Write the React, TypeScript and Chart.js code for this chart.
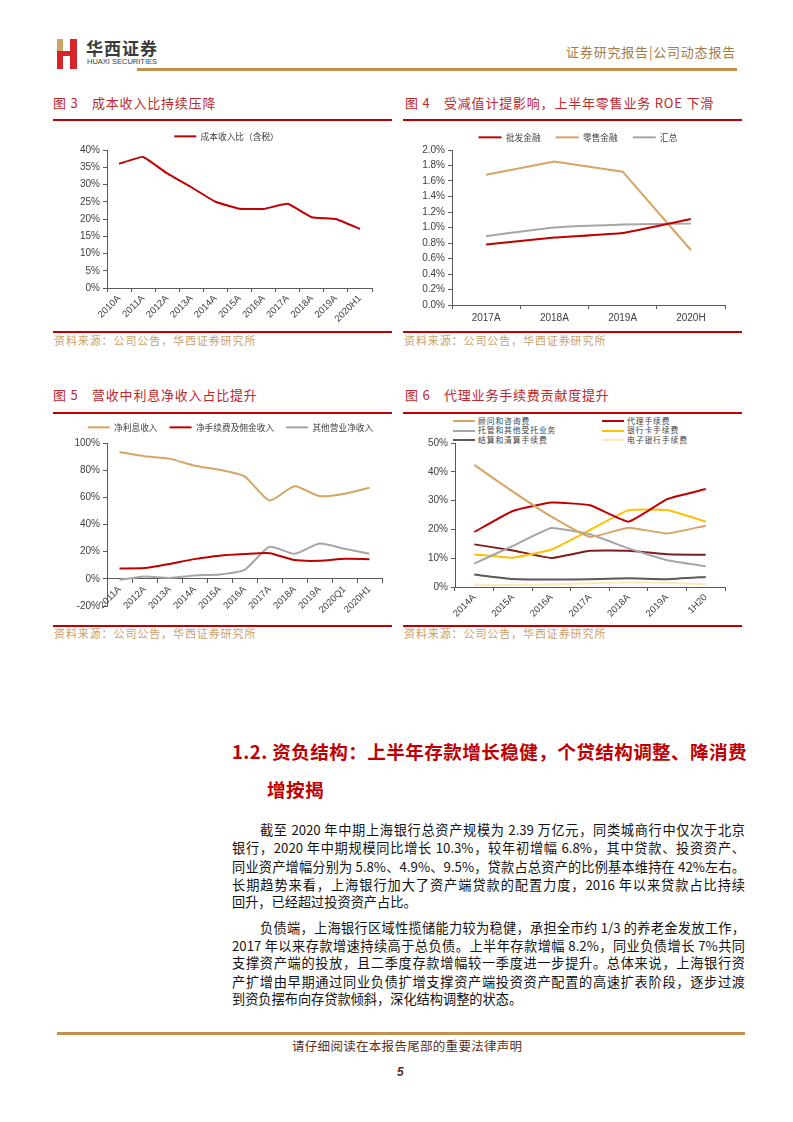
import React, { useEffect, useRef } from "react";
import { Chart, registerables } from "chart.js";

Chart.register(...registerables);

// 图3 成本收入比
const costYears = ["2010A", "2011A", "2012A", "2013A", "2014A", "2015A", "2016A", "2017A", "2018A", "2019A", "2020H1"];
const costIncomeRatio = [36, 38, 33.2, 29.2, 25, 23, 22.9, 24.4, 20.5, 20, 17.1];

// 图4 ROE
const roeYears = ["2017A", "2018A", "2019A", "2020H"];
const roeLabels = ["批发金融", "零售金融", "汇总"];
const roeWholesale = [0.78, 0.87, 0.93, 1.11];
const roeRetail = [1.68, 1.85, 1.72, 0.71];
const roeTotal = [0.89, 1.0, 1.04, 1.05];

// 图5 营收结构
const revYears = ["2011A", "2012A", "2013A", "2014A", "2015A", "2016A", "2017A", "2018A", "2019A", "2020Q1", "2020H1"];
const revLabels = ["净利息收入", "净手续费及佣金收入", "其他营业净收入"];
const revNetInterest = [93.4, 90.2, 88.5, 83.3, 80.3, 75.4, 57.7, 68.1, 60.9, 62.7, 67.1];
const revFeeCommission = [7.6, 7.9, 11, 14.5, 17, 18.2, 18.9, 13.8, 13.3, 14.7, 14.5];
const revOther = [-0.7, 1.7, 0.7, 2.5, 3.2, 6.6, 23.6, 18.4, 26, 22.1, 18.4];

// 图6 手续费结构
const feeYears = ["2014A", "2015A", "2016A", "2017A", "2018A", "2019A", "1H20"];
const feeLabels = ["顾问和咨询费", "代理手续费", "托管和其他受托业务", "银行卡手续费", "结算和清算手续费", "电子银行手续费", "其他手续费"];
const feeAdvisory = [42.4, 33.1, 24.4, 17.4, 20.6, 18.6, 21.3];
const feeAgency = [19.1, 26.4, 29.3, 28.4, 22.7, 30.5, 34];
const feeCustody = [8.1, 14.3, 20.5, 18.3, 13.4, 9.3, 7.2];
const feeCard = [11.3, 10.2, 13, 19.8, 26.7, 26.7, 22.7];
const feeSettlement = [4.3, 2.8, 2.6, 2.7, 3.0, 2.7, 3.5];
const feeEbank = [0.6, 0.7, 0.9, 1.3, 1.6, 1.5, 0.9];
const feeOther = [14.8, 12.7, 10.1, 12.6, 12.6, 11.4, 11.2];

const CJK = '"Noto Sans CJK SC", sans-serif';
const LATIN = '"Liberation Sans", Arial, sans-serif';
const AXIS = "#595959";
const TICK = "#404040";
const RED = "#C00000";
const TAN = "#D6A464";
const GRAY = "#A6A6A6";
const feeColors = [TAN, RED, GRAY, "#FFC000", "#595959", "#FDE9B8", "#7F1D1D"];

// fixes the legend block height and nudges it sideways
const fixLegend = (h: number, dx: number) => ({
  id: "fixLegend",
  beforeInit(chart: any) {
    const fit = chart.legend.fit;
    chart.legend.fit = function () {
      fit.call(this);
      this.height = h;
    };
  },
  afterLayout(chart: any) {
    chart.legend.left += dx;
    chart.legend.right += dx;
  },
});

const line = (label: string, data: number[], color: string, tension = 0.15) => ({
  label,
  data,
  borderColor: color,
  backgroundColor: color,
  borderWidth: 2,
  pointRadius: 0,
  tension,
  fill: false,
});

const legendOpts = (pad: number, boxW: number) => ({
  display: true,
  position: "top",
  labels: {
    usePointStyle: true,
    pointStyle: "line",
    pointStyleWidth: boxW,
    padding: pad,
    color: TICK,
    font: { family: CJK, size: 8.7 },
  },
});

const xScale = (rotate: boolean, height?: number) => ({
  offset: true,
  grid: { display: true, drawOnChartArea: false, drawTicks: true, tickLength: 4, color: AXIS, offset: true },
  border: { display: true, color: AXIS, width: 1 },
  ticks: {
    autoSkip: false,
    minRotation: rotate ? 45 : 0,
    maxRotation: rotate ? 45 : 0,
    padding: rotate ? 1 : 3,
    color: TICK,
    font: { family: LATIN, size: rotate ? 9.5 : 10 },
  },
  afterFit: height ? (s: any) => { s.height = height; } : undefined,
});

const yScale = (min: number, max: number, step: number, width: number, fmt: (v: number) => string) => ({
  min,
  max,
  grid: { display: true, drawOnChartArea: false, drawTicks: true, tickLength: 4, color: AXIS },
  border: { display: true, color: AXIS, width: 1 },
  ticks: { stepSize: step, padding: 3, color: TICK, font: { family: LATIN, size: 10 }, callback: (v: any) => fmt(Number(v)) },
  afterFit: (s: any) => { s.width = width; },
});

function LineChart({ left, top, width, height, build }: { left: number; top: number; width: number; height: number; build: () => any }) {
  const ref = useRef<HTMLCanvasElement>(null);
  useEffect(() => {
    const chart = new Chart(ref.current!, build());
    return () => chart.destroy();
  }, []);
  return (
    <div style={{ position: "absolute", left, top, width, height }}>
      <canvas ref={ref} />
    </div>
  );
}

const baseOptions = {
  responsive: true,
  maintainAspectRatio: false,
  animation: false,
};

const costConfig = () => ({
  type: "line",
  data: { labels: costYears, datasets: [line("成本收入比（含税）", costIncomeRatio, RED, 0.1)] },
  options: {
    ...baseOptions,
    layout: { padding: { left: 0, right: 21, top: 0, bottom: 0 } },
    plugins: { legend: legendOpts(10, 22), tooltip: { enabled: false } },
    scales: { x: xScale(true, 42), y: yScale(0, 40, 5, 54, (v) => `${v}%`) },
  },
  plugins: [fixLegend(28, 14)],
});

const roeConfig = () => ({
  type: "line",
  data: {
    labels: roeYears,
    datasets: [
      line(roeLabels[0], roeWholesale, RED, 0.1),
      line(roeLabels[1], roeRetail, TAN, 0),
      line(roeLabels[2], roeTotal, GRAY, 0.1),
    ],
  },
  options: {
    ...baseOptions,
    layout: { padding: { left: 0, right: 18, top: 0, bottom: 0 } },
    plugins: { legend: legendOpts(15, 23), tooltip: { enabled: false } },
    scales: { x: xScale(false, 23), y: yScale(0, 2, 0.2, 49, (v) => `${v.toFixed(1)}%`) },
  },
  plugins: [fixLegend(32, 14)],
});

const revConfig = () => {
  const x: any = xScale(true);
  x.position = { y: 0 };
  return {
    type: "line",
    data: {
      labels: revYears,
      datasets: [
        line(revLabels[0], revNetInterest, TAN, 0.2),
        line(revLabels[1], revFeeCommission, RED, 0.2),
        line(revLabels[2], revOther, GRAY, 0.2),
      ],
    },
    options: {
      ...baseOptions,
      layout: { padding: { left: 0, right: 11, top: 0, bottom: 18 } },
      plugins: { legend: legendOpts(12, 22), tooltip: { enabled: false } },
      scales: { x, y: yScale(-20, 100, 20, 54, (v) => `${v}%`) },
    },
    plugins: [fixLegend(32, 13)],
  };
};

const feeData = [feeAdvisory, feeAgency, feeCustody, feeCard, feeSettlement, feeEbank, feeOther];

const feeConfig = () => ({
  type: "line",
  data: {
    labels: feeYears,
    datasets: feeData.map((d, i) => line(feeLabels[i], d, feeColors[i], 0.12)),
  },
  options: {
    ...baseOptions,
    layout: { padding: { left: 0, right: 18, top: 31, bottom: 0 } },
    plugins: { legend: { display: false }, tooltip: { enabled: false } },
    scales: { x: xScale(true, 38), y: yScale(0, 50, 10, 52, (v) => `${v}%`) },
  },
});

function Text({ x, cy, size, children, style }: { x: number; cy: number; size: number; children: React.ReactNode; style?: React.CSSProperties }) {
  return (
    <div style={{ position: "absolute", left: x, top: cy - size * 0.7, height: size * 1.4, lineHeight: `${size * 1.4}px`, fontSize: size, whiteSpace: "nowrap", ...style }}>
      {children}
    </div>
  );
}

function Rule({ x, y, w, h = 2, color = RED }: { x: number; y: number; w: number; h?: number; color?: string }) {
  return <div style={{ position: "absolute", left: x, top: y, width: w, height: h, background: color }} />;
}

function FigTitle({ x, cy, no, title }: { x: number; cy: number; no: string; title: string }) {
  const st = { color: "#C0282D", letterSpacing: 0.8, fontFamily: CJK };
  return (
    <>
      <Text x={x} cy={cy} size={13} style={st}>{`图 ${no}`}</Text>
      <Text x={x + 39} cy={cy} size={13} style={st}>{title}</Text>
    </>
  );
}

function Source({ x, cy }: { x: number; cy: number }) {
  return (
    <Text x={x} cy={cy} size={11} style={{ color: "#C9A06C", letterSpacing: 0.9, fontFamily: CJK }}>
      资料来源：公司公告，华西证券研究所
    </Text>
  );
}

const para1 = [
  "截至 2020 年中期上海银行总资产规模为 2.39 万亿元，同类城商行中仅次于北京",
  "银行，2020 年中期规模同比增长 10.3%，较年初增幅 6.8%，其中贷款、投资资产、",
  "同业资产增幅分别为 5.8%、4.9%、9.5%，贷款占总资产的比例基本维持在 42%左右。",
  "长期趋势来看，上海银行加大了资产端贷款的配置力度，2016 年以来贷款占比持续",
  "回升，已经超过投资资产占比。",
];
const para2 = [
  "负债端，上海银行区域性揽储能力较为稳健，承担全市约 1/3 的养老金发放工作，",
  "2017 年以来存款增速持续高于总负债。上半年存款增幅 8.2%，同业负债增长 7%共同",
  "支撑资产端的投放，且二季度存款增幅较一季度进一步提升。总体来说，上海银行资",
  "产扩增由早期通过同业负债扩增支撑资产端投资资产配置的高速扩表阶段，逐步过渡",
  "到资负摆布向存贷款倾斜，深化结构调整的状态。",
];

function Paragraph({ lines, ys }: { lines: string[]; ys: number[] }) {
  return (
    <>
      {lines.map((t, i) => {
        const last = i === lines.length - 1;
        const indent = i === 0 ? 28 : 0;
        return (
          <div
            key={i}
            style={{
              position: "absolute",
              left: 232 + indent,
              width: 513 - indent,
              top: ys[i] - 9,
              height: 18,
              lineHeight: "18px",
              fontSize: 13.2,
              color: "#111",
              textAlign: last ? "left" : "justify",
              textAlignLast: last ? "left" : "justify",
              fontFamily: CJK,
            }}
          >
            {t}
          </div>
        );
      })}
    </>
  );
}

function FeeLegend() {
  const colX = [453, 602];
  const rowY = [421, 430.5, 440];
  return (
    <>
      {feeLabels.slice(0, 6).map((lab, i) => {
        const x = colX[i % 2];
        const y = rowY[Math.floor(i / 2)];
        return (
          <React.Fragment key={lab}>
            <div style={{ position: "absolute", left: x, top: y - 1, width: 22, height: 2, background: feeColors[i] }} />
            <Text x={x + 25} cy={y} size={7.8} style={{ color: TICK, fontFamily: CJK, letterSpacing: 0.9 }}>{lab}</Text>
          </React.Fragment>
        );
      })}
    </>
  );
}

export default function App() {
  return (
    <div style={{ position: "absolute", left: 0, top: 0, width: 793, height: 1122, background: "#fff", overflow: "hidden", fontFamily: CJK }}>
      {/* header */}
      <div style={{ position: "absolute", left: 57, top: 39, width: 6, height: 30, background: "linear-gradient(#CFA468 0 55%, #D7262B 55%)" }} />
      <div style={{ position: "absolute", left: 70, top: 39, width: 7, height: 30, background: "#D7262B" }} />
      <div style={{ position: "absolute", left: 57, top: 51, width: 20, height: 5, background: "#D7262B" }} />
      <Text x={86} cy={48} size={17} style={{ fontWeight: 700, color: "#3A3A3A", letterSpacing: 1 }}>华西证券</Text>
      <Text x={87} cy={62.5} size={7.5} style={{ color: "#3A3A3A", fontFamily: LATIN }}>HUAXI SECURITIES</Text>
      <div style={{ position: "absolute", right: 793 - 736, top: 43, height: 18, lineHeight: "18px", fontSize: 13, color: "#A57C4A", letterSpacing: 0.8, whiteSpace: "nowrap" }}>
        证券研究报告|公司动态报告
      </div>
      <Rule x={137} y={68} w={600} h={3} color="#C0914F" />

      {/* figure 3 & 4 */}
      <FigTitle x={53} cy={103} no="3" title="成本收入比持续压降" />
      <FigTitle x={405} cy={103} no="4" title="受减值计提影响，上半年零售业务 ROE 下滑" />
      <Rule x={53} y={119} w={339} />
      <Rule x={403} y={119} w={339} />
      <LineChart left={53} top={122} width={340} height={208} build={costConfig} />
      <LineChart left={403} top={118} width={340} height={210} build={roeConfig} />
      <Rule x={53} y={331} w={339} />
      <Rule x={403} y={331} w={339} />
      <Source x={54} cy={341} />
      <Source x={404} cy={341} />

      {/* figure 5 & 6 */}
      <FigTitle x={53} cy={395} no="5" title="营收中利息净收入占比提升" />
      <FigTitle x={405} cy={395} no="6" title="代理业务手续费贡献度提升" />
      <Rule x={53} y={412} w={339} />
      <Rule x={403} y={412} w={339} />
      <LineChart left={53} top={411} width={340} height={213} build={revConfig} />
      <FeeLegend />
      <LineChart left={403} top={412} width={340} height={213} build={feeConfig} />
      <Rule x={53} y={625} w={339} />
      <Rule x={403} y={625} w={339} />
      <Source x={54} cy={634} />
      <Source x={404} cy={634} />

      {/* section text */}
      <Text x={232} cy={751} size={18.6} style={{ fontWeight: 700, color: RED, letterSpacing: 0.4 }}>
        1.2. 资负结构：上半年存款增长稳健，个贷结构调整、降消费
      </Text>
      <Text x={267} cy={789} size={18.6} style={{ fontWeight: 700, color: RED, letterSpacing: 0.4 }}>增按揭</Text>
      <Paragraph lines={para1} ys={[830, 848.3, 866.7, 885, 902.3]} />
      <Paragraph lines={para2} ys={[928.3, 945.7, 963.3, 981.7, 999.3]} />

      {/* footer */}
      <Rule x={57} y={1032} w={688} h={3} color="#C0914F" />
      <Text x={292} cy={1046} size={12.5} style={{ color: "#5B3020", letterSpacing: 0.3 }}>请仔细阅读在本报告尾部的重要法律声明</Text>
      <Text x={397} cy={1072} size={12} style={{ color: "#5B3020", fontWeight: 700, fontStyle: "italic", fontFamily: LATIN }}>5</Text>
    </div>
  );
}
